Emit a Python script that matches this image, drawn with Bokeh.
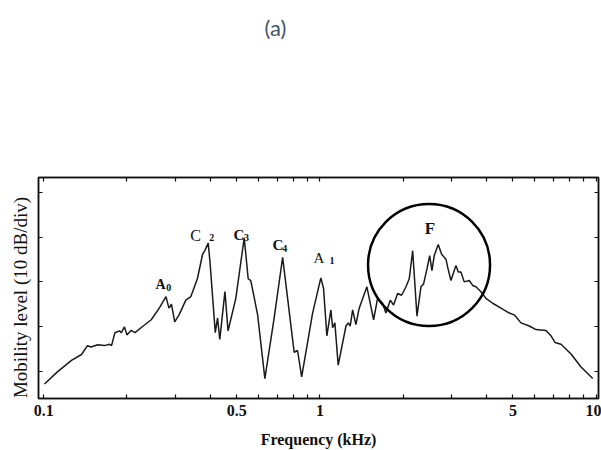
import numpy as np
from bokeh.plotting import figure
from bokeh.models import (FixedTicker, LogAxis, LinearAxis, ColumnDataSource,
                          CustomJSTickFormatter)
from bokeh.core.properties import value
from bokeh.embed import file_html
from bokeh.resources import INLINE

# ---- data ----
freq_khz = [0.1006, 0.112, 0.126, 0.137, 0.144, 0.148, 0.157, 0.166, 0.173, 0.176,
            0.181, 0.188, 0.191, 0.196, 0.200, 0.207, 0.214, 0.225, 0.245, 0.262,
            0.277, 0.284, 0.290, 0.298, 0.309, 0.327, 0.341, 0.360, 0.376, 0.383,
            0.394, 0.400, 0.418, 0.426, 0.434, 0.453, 0.465, 0.496, 0.532, 0.550,
            0.562, 0.595, 0.632, 0.683, 0.733, 0.764, 0.807, 0.830, 0.859, 0.941,
            1.008, 1.031, 1.060, 1.096, 1.112, 1.133, 1.165, 1.243, 1.267, 1.288,
            1.314, 1.350, 1.388, 1.480, 1.565, 1.618, 1.687, 1.734, 1.798, 1.849,
            1.912, 1.977, 2.050, 2.107, 2.168, 2.247, 2.323, 2.376, 2.442, 2.498,
            2.546, 2.595, 2.683, 2.760, 2.861, 2.902, 2.983, 3.110, 3.170, 3.242,
            3.332, 3.475, 3.575, 3.674, 3.831, 3.994, 4.224, 4.527, 4.852, 5.058,
            5.349, 5.733, 6.063, 6.591, 6.871, 7.103, 7.468, 8.120, 8.825, 9.728]

level_db = [7.1, 9.8, 12.4, 13.7, 15.7, 15.4, 15.9, 15.7, 16.0, 15.7,
            18.6, 19.0, 18.6, 19.9, 18.1, 19.1, 18.6, 19.7, 21.5, 24.1,
            26.7, 24.1, 25.0, 21.0, 22.6, 25.9, 26.7, 30.7, 36.2, 37.0,
            38.7, 34.4, 18.6, 21.9, 17.1, 27.8, 19.0, 26.3, 39.9, 30.7,
            30.3, 22.6, 8.3, 21.9, 35.5, 26.3, 14.2, 14.6, 8.7, 23.0,
            30.9, 28.5, 17.9, 23.7, 19.7, 20.8, 11.3, 20.1, 20.8, 20.1,
            23.7, 20.4, 24.1, 28.9, 21.5, 26.3, 25.2, 23.0, 25.9, 24.8,
            27.4, 27.0, 28.9, 30.7, 37.0, 22.3, 28.9, 29.6, 32.9, 35.9,
            32.5, 35.9, 38.4, 36.2, 35.1, 33.3, 30.3, 33.7, 32.2, 32.2,
            30.0, 30.3, 29.2, 28.9, 27.8, 26.3, 25.2, 24.1, 23.0, 22.6,
            20.8, 20.1, 19.3, 19.1, 17.9, 16.4, 16.0, 13.8, 10.9, 8.3]

x_major_ticks = [0.1, 0.5, 1, 5, 10]
x_minor_ticks = [0.2, 0.3, 0.4, 0.6, 0.7, 0.8, 0.9, 2, 3, 4, 6, 7, 8, 9]
y_ticks = [10, 20, 30, 40, 50]

peak_letters = ["A", "C", "C", "C", "A", "F"]
peak_subscripts = ["0", "2", "3", "4", "1", ""]
peak_label_freq = [0.265, 0.355, 0.509, 0.704, 0.992, 2.504]
peak_label_level = [29.4, 40.3, 40.6, 38.2, 35.3, 42.0]

circle_center_freq = [2.485]
circle_center_level = [33.8]

assert len(freq_khz) == len(level_db)

# ---- figure ----
p = figure(width=601, height=450, x_axis_type="log",
           x_range=(0.0957, 10.21), y_range=(3.83, 53.42),
           output_backend="svg", toolbar_location=None,
           min_border_left=38, min_border_right=3, min_border_top=177, min_border_bottom=48,
           background_fill_color="white", border_fill_color="white",
           outline_line_color="#111111", outline_line_width=1.5)
p.grid.visible = False

# panel caption as the plot title (trailing blank lines lift it to the page top)
p.title.text = "(a)" + "\n" * 5
p.title.align = "left"
p.title.vertical_align = "top"
p.title.offset = 226
p.title.standoff = 0
p.title.text_font = "Lato"
p.title.text_font_size = "22px"
p.title.text_font_style = "normal"
p.title.text_color = "#44546A"

SERIF = "Liberation Serif"
xt = FixedTicker(ticks=x_major_ticks, minor_ticks=x_minor_ticks)
yt = FixedTicker(ticks=y_ticks, minor_ticks=[])
blank = CustomJSTickFormatter(code="return ''")

def style_axis(ax, ticker):
    ax.ticker = ticker
    ax.major_tick_in = 4
    ax.major_tick_out = 0
    ax.minor_tick_in = 4
    ax.minor_tick_out = 0
    ax.axis_line_color = "#111111"
    ax.axis_line_width = 1.5
    ax.major_tick_line_color = "#111111"
    ax.minor_tick_line_color = "#111111"
    ax.major_tick_line_width = 1.2
    ax.minor_tick_line_width = 1.2

xb = p.xaxis[0]
style_axis(xb, xt)
xb.formatter = CustomJSTickFormatter(code="return tick.toString()")
xb.major_label_text_font = SERIF
xb.major_label_text_font_style = "bold"
xb.major_label_text_font_size = "16px"
xb.major_label_text_color = "#111111"
xb.major_label_standoff = 6
xb.axis_label = "Frequency (kHz)"
xb.axis_label_text_font = SERIF
xb.axis_label_text_font_style = "bold"
xb.axis_label_text_font_size = "16px"
xb.axis_label_text_color = "#111111"
xb.axis_label_standoff = 12

yl = p.yaxis[0]
style_axis(yl, yt)
yl.formatter = blank
yl.major_label_standoff = 0
yl.axis_label = "Mobility level (10 dB/div)" + "\u00a0" * 4
yl.axis_label_text_font = SERIF
yl.axis_label_text_font_style = "normal"
yl.axis_label_text_font_size = "19px"
yl.axis_label_text_color = "#111111"
yl.axis_label_standoff = 8

xtop = LogAxis()
style_axis(xtop, xt)
xtop.formatter = blank
xtop.major_label_standoff = 0
p.add_layout(xtop, "above")

yr = LinearAxis()
style_axis(yr, yt)
yr.formatter = blank
yr.major_label_standoff = 0
p.add_layout(yr, "right")

# ---- curve ----
src = ColumnDataSource(dict(f=freq_khz, L=level_db))
p.line("f", "L", source=src, line_color="#1a1a1a", line_width=1.5)

# ---- peak labels ----
lab = ColumnDataSource(dict(
    f=peak_label_freq, L=peak_label_level, t=peak_letters, s=peak_subscripts,
    style=["bold", "normal", "bold", "bold", "normal", "bold"],
    size=["14px", "16px", "15px", "15px", "15px", "17px"],
    sx=[8, 16, 7.5, 7, 13, 0], sy=[3, 2, 3, 3, 2, 0],
))
p.text("f", "L", text="t", source=lab, text_font=value(SERIF), text_font_style="style",
       text_font_size="size", text_align="center", text_baseline="middle", text_color="#111111")
p.text("f", "L", text="s", source=lab, text_font=value(SERIF), text_font_style="bold",
       text_font_size="10px", text_align="center", text_baseline="middle",
       x_offset="sx", y_offset="sy", text_color="#111111")

# ---- circle around F ----
p.scatter(circle_center_freq, circle_center_level, marker="circle", size=122,
          fill_color=None, line_color="black", line_width=2.5)

open("out.html", "w").write(file_html(p, INLINE))
